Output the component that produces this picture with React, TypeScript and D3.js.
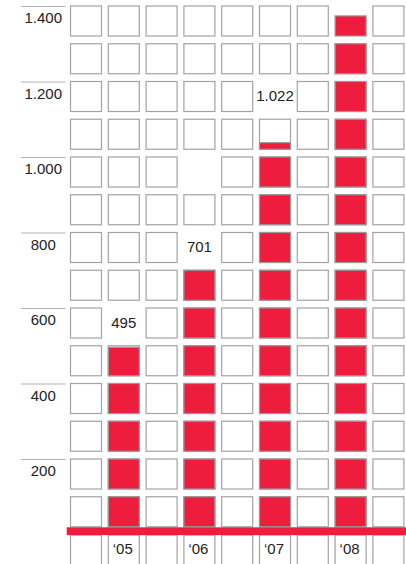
import React, { useRef, useEffect } from "react";
import * as d3 from "d3";

// yearly totals, one column each
const years = ["\u201805", "\u201806", "\u201807", "\u201808"];
const totals = [495, 701, 1022, 1367];
// which of the 9 grid columns each year sits in
const yearColumns = [1, 3, 5, 7];
const axisTicks = [200, 400, 600, 800, 1000, 1200, 1400];
// grid slots left without an outline in the original (column, unit row)
const emptySlots: [number, number][] = [[3, 9], [7, 13]];

const WIDTH = 406;
const HEIGHT = 564;
const RED = "#ee1c3d";
const GRID = "#a3a3a3";
const INK = "#222";
const FONT = "'Liberation Sans', Arial, Helvetica, sans-serif";

function drawChart(svgEl: SVGSVGElement) {
  const svg = d3.select(svgEl);
  svg.selectAll("*").remove();

  const nCols = 9;
  const unit = 100;
  const maxVal = 1400;
  const nRows = maxVal / unit;

  const x = d3
    .scaleBand<number>()
    .domain(d3.range(nCols))
    .range([70.5, 70.5 + nCols * 37.8 - 6.8])
    .paddingInner(0.18)
    .paddingOuter(0);
  const cellW = x.bandwidth();
  const cellH = 30;

  const y = d3.scaleLinear().domain([0, maxVal]).range([6 + nRows * 37.75, 6]);

  const fmt = d3.formatLocale({
    decimal: ",",
    thousands: ".",
    grouping: [3],
    currency: ["", ""],
  }).format(",d");

  const g = svg.append("g");

  // which slots are taken by a value label or left blank
  const skip = new Set<string>(emptySlots.map(([c, r]) => `${c}-${r}`));
  const labels: { col: number; row: number; text: string }[] = [];
  years.forEach((_, i) => {
    const v = totals[i];
    const full = Math.floor(v / unit);
    const frac = v / unit - full;
    const row = frac * cellH >= 1 ? full + 1 : full;
    if (row < nRows) labels.push({ col: yearColumns[i], row, text: fmt(v) });
    skip.add(`${yearColumns[i]}-${row}`);
  });

  // grid of empty cells
  const slots: { c: number; r: number }[] = [];
  for (let c = 0; c < nCols; c++) {
    for (let r = 0; r < nRows; r++) {
      if (!skip.has(`${c}-${r}`)) slots.push({ c, r });
    }
  }
  g.selectAll("rect.slot")
    .data(slots)
    .enter()
    .append("rect")
    .attr("class", "slot")
    .attr("x", (d) => x(d.c) as number)
    .attr("y", (d) => y((d.r + 1) * unit))
    .attr("width", cellW)
    .attr("height", cellH)
    .attr("fill", "#fff")
    .attr("stroke", GRID)
    .attr("stroke-width", 1.2);

  // red fills
  const fills: { c: number; r: number; f: number }[] = [];
  years.forEach((_, i) => {
    const v = totals[i];
    const full = Math.floor(v / unit);
    const frac = v / unit - full;
    for (let r = 0; r < full; r++) fills.push({ c: yearColumns[i], r, f: 1 });
    if (frac * cellH >= 1) fills.push({ c: yearColumns[i], r: full, f: frac });
  });
  g.selectAll("rect.fill")
    .data(fills)
    .enter()
    .append("rect")
    .attr("class", "fill")
    .attr("x", (d) => x(d.c) as number)
    .attr("y", (d) => y((d.r + 1) * unit) + cellH * (1 - d.f))
    .attr("width", cellW)
    .attr("height", (d) => cellH * d.f)
    .attr("fill", RED)
    .attr("stroke", "#999")
    .attr("stroke-width", 1.2);

  // value labels in the cell above each column
  g.selectAll("text.value")
    .data(labels)
    .enter()
    .append("text")
    .attr("class", "value")
    .attr("x", (d) => (x(d.col) as number) + cellW / 2)
    .attr("y", (d) => y((d.row + 1) * unit) + cellH / 2 + 4.5)
    .attr("text-anchor", "middle")
    .attr("font-family", FONT)
    .attr("font-size", 15)
    .attr("fill", INK)
    .text((d) => d.text);

  // y axis labels with short rules
  const axis = g.append("g");
  axis
    .selectAll("line")
    .data(axisTicks)
    .enter()
    .append("line")
    .attr("x1", 21)
    .attr("x2", 65.5)
    .attr("y1", (d) => y(d) + 0.5)
    .attr("y2", (d) => y(d) + 0.5)
    .attr("stroke", "#b3b3b3")
    .attr("stroke-width", 1);
  axis
    .selectAll("text")
    .data(axisTicks)
    .enter()
    .append("text")
    .attr("x", 43.3)
    .attr("y", (d) => y(d) + 17)
    .attr("text-anchor", "middle")
    .attr("font-family", FONT)
    .attr("font-size", 15)
    .attr("fill", INK)
    .text((d) => fmt(d));

  // cells below the base line
  g.selectAll("rect.below")
    .data(d3.range(nCols))
    .enter()
    .append("rect")
    .attr("class", "below")
    .attr("x", (d) => x(d) as number)
    .attr("y", y(0) + 0.5)
    .attr("width", cellW)
    .attr("height", 45)
    .attr("fill", "#fff")
    .attr("stroke", GRID)
    .attr("stroke-width", 1.2);

  // red base line
  g.append("rect")
    .attr("x", 66.7)
    .attr("y", y(0) - 7.2)
    .attr("width", WIDTH - 66.7 + 10)
    .attr("height", 7.8)
    .attr("fill", RED);

  // year labels
  g.selectAll("text.year")
    .data(years)
    .enter()
    .append("text")
    .attr("class", "year")
    .attr("x", (_, i) => (x(yearColumns[i]) as number) + cellW / 2 - 1)
    .attr("y", y(0) + 19)
    .attr("text-anchor", "middle")
    .attr("font-family", FONT)
    .attr("font-size", 15)
    .attr("fill", INK)
    .text((d) => d);
}

export default function App() {
  const svgRef = useRef<SVGSVGElement>(null);

  useEffect(() => {
    if (svgRef.current == null) {
      return;
    }
    drawChart(svgRef.current);
  }, []);

  return (
    <svg
      ref={svgRef}
      width={WIDTH}
      height={HEIGHT}
      style={{ position: "absolute", left: 0, top: 0, background: "#fff" }}
    />
  );
}
